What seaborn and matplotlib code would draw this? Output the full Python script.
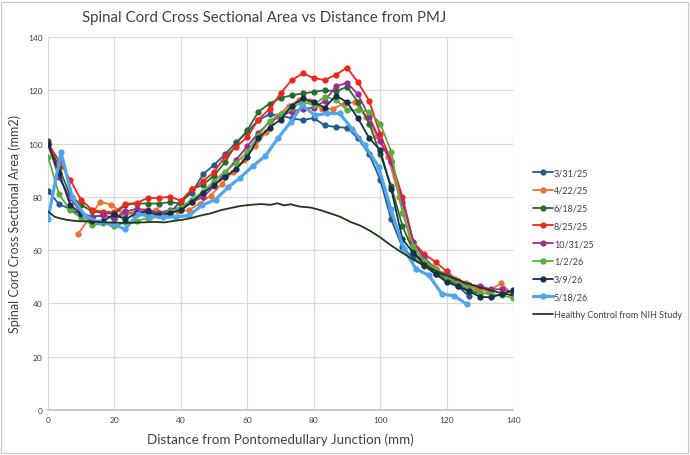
import matplotlib
matplotlib.use("Agg")
import matplotlib.pyplot as plt
import seaborn as sns
from matplotlib.lines import Line2D
from matplotlib.patches import Rectangle

# common slice positions (mm from PMJ)
grid_x = [0, 3.3, 6.7, 10, 13.3, 16.7, 20, 23.3, 26.7, 30, 33.3, 36.7, 40, 43.3, 46.7,
          50, 53.3, 56.7, 60, 63.3, 66.7, 70, 73.3, 76.7, 80, 83.3, 86.7, 90, 93.3, 96.7,
          100, 103.3, 106.7, 110, 113.3, 116.7, 120, 123.3, 126.7, 130, 133.3, 136.7, 140]

csa_3_31_25 = [82.2, 77.3, 75.4, 73.2, 72.4, 73.2, 71.7, 73.6, 74.5, 74, 73.5, 74, 78.4, 81.5,
               88.5, 92, 96, 100.5, 104.4, 108.8, 111, 110.5, 109.5, 108.8, 109.6, 106.8, 106.2,
               105.9, 102, 95.9, 86.5, 71.5, 61, 57, 54, 51, 49, 46.5, 42.8]

x_4_22_25 = [9, 12.4, 15.7, 19, 22.4, 25.7, 29, 32.4, 35.7, 39, 42.4, 45.7, 49, 52.4, 55.7, 59,
             62.4, 65.7, 69, 72.4, 75.7, 79, 82.4, 85.7, 89, 92.4, 95.7, 99, 102.4, 105.7, 109,
             112.4, 115.7, 119, 122.4, 125.7, 129, 132.4, 136.4, 140]
csa_4_22_25 = [66, 72, 78.2, 77, 74, 73.5, 74.5, 75, 74, 74.5, 75, 77.5, 80.5, 85, 89.5, 94, 99,
               104.5, 110.5, 114, 116.5, 116, 113, 113, 115, 115.5, 110, 103, 95, 80, 64, 57,
               53.5, 51, 49, 47.5, 45.5, 44.5, 47.5, 43]

csa_6_18_25 = [101, 91, 80.5, 77, 74.5, 74, 73.5, 77, 77.5, 77.5, 77.5, 78, 77.5, 82.8, 84.6, 88,
               93, 100, 105, 111.9, 115, 117.1, 118.1, 118.8, 119.4, 120, 119.6, 121.3, 115.6,
               107.5, 96, 84, 69, 59.5, 55, 52, 49.5, 47, 45, 43.5]

csa_8_25_25 = [100, 93.6, 86.3, 78.8, 75.1, 74.4, 74.2, 77.3, 77.7, 79.6, 79.6, 80, 78.6, 82.8,
               85.9, 89.3, 95.3, 98.8, 102.5, 109, 113, 118.8, 123.8, 126.3, 124.6, 123.8, 125.9,
               128.5, 123, 116, 103.5, 93.5, 80, 63, 58.5, 55.5, 52, 48.5]

csa_10_31_25 = [99.8, 87.3, 79.5, 74, 72.5, 73, 72, 74.5, 75.5, 75, 74, 75, 76, 78, 80, 84, 89,
                94, 99, 104, 108, 110.5, 112, 113, 113.5, 116, 121.5, 122.8, 118.5, 110, 101,
                93, 78, 63, 57, 53, 50.5, 48, 47, 46.5, 45.3, 45.3, 44]

csa_1_2_26 = [95.1, 81, 75, 72, 69.5, 70, 69, 70.5, 71, 72, 73, 74.5, 76, 79, 82, 85.9, 89.5,
              92.8, 97, 103, 108.5, 111, 113.5, 115.5, 114.6, 117.5, 116.5, 112.5, 112.5, 112,
              107.5, 97, 74, 61.5, 56, 53, 50, 47.5, 46, 44, 43.5, 43, 42]

csa_3_9_26 = [100, 89, 77, 73.5, 71, 71, 73.5, 71.5, 74, 74.5, 73, 74, 75, 78, 81.5, 84.5, 87.5,
              90.5, 95, 102, 106, 109, 114, 117, 115.5, 113.5, 118, 115.5, 109.5, 102, 97.5, 83,
              64, 59, 54.5, 51, 48, 46.5, 44.5, 42.5, 42.3, 43.5, 45]

x_5_18_26 = [0, 3.9, 7.3, 11.1, 15.2, 19.3, 23.2, 27.2, 30.7, 34.7, 38.6, 42.5, 46.4, 50.5, 54.2,
             57.8, 61.6, 65.4, 69.2, 73, 76.6, 80.3, 84, 87.8, 91.5, 95.3, 99.5, 103.2, 107.1,
             110.8, 114.6, 118.6, 122.3, 126.2]
csa_5_18_26 = [71.7, 96.7, 79.8, 72.9, 70.5, 69.8, 67.9, 73.6, 72.6, 72.3, 72.5, 73, 76.9, 79,
               83.6, 87.1, 91.5, 95.3, 102, 108, 114.4, 110.6, 111.3, 111.3, 105.6, 99.4, 91.3,
               75.4, 60.4, 52.9, 50.6, 43.5, 42.8, 39.6]

healthy_x = [0, 2, 4, 6, 8, 10, 13, 16, 20, 24, 28, 32, 35, 38, 40, 43, 46, 49, 52, 55, 58, 61,
             64, 67, 69, 71, 73, 76, 79, 82, 85, 88, 91, 94, 97, 100, 103, 106, 109, 112, 115,
             118, 121, 124, 127, 130, 133, 136, 140]
healthy_y = [74.5, 72.5, 71.8, 71.3, 71, 70.8, 70.8, 70.5, 70.3, 70.2, 70.4, 70.6, 70.4, 71,
             71.3, 72, 73, 73.8, 75, 75.8, 76.6, 77, 77.3, 77, 77.6, 76.8, 77.2, 76.3, 76, 75,
             73.8, 72.5, 70.6, 69.2, 67.2, 64.8, 62, 59.5, 57.2, 55, 53.2, 51.5, 50, 48.6, 47.2,
             46, 45, 44, 43]

series = [
    ("3/31/25", grid_x[:len(csa_3_31_25)], csa_3_31_25, "#245B8D"),
    ("4/22/25", x_4_22_25, csa_4_22_25, "#E97132"),
    ("6/18/25", grid_x[:len(csa_6_18_25)], csa_6_18_25, "#2A6B2A"),
    ("8/25/25", grid_x[:len(csa_8_25_25)], csa_8_25_25, "#F0251B"),
    ("10/31/25", grid_x[:len(csa_10_31_25)], csa_10_31_25, "#A02B93"),
    ("1/2/26", grid_x[:len(csa_1_2_26)], csa_1_2_26, "#5BAE3A"),
    ("3/9/26", grid_x[:len(csa_3_9_26)], csa_3_9_26, "#13304D"),
    ("5/18/26", x_5_18_26, csa_5_18_26, "#4FA6EC"),
]

sns.set_theme(style="whitegrid")
plt.rcParams["font.family"] = ["Lato", "DejaVu Sans"]

fig = plt.figure(figsize=(6.9, 4.56), dpi=100)
ax = fig.add_axes([0.0696, 0.0987, 0.674, 0.818])

handles = []
for name, xs, ys, col in series:
    lw = 2.3 if name == "5/18/26" else 1.3
    sns.lineplot(x=xs, y=ys, ax=ax, color=col, linewidth=lw, marker="o", markersize=4.5,
                 markeredgewidth=0, sort=False, errorbar=None)
    handles.append(Line2D([0], [0], color=col, lw=lw, marker="o", markersize=4.5,
                          markeredgewidth=0, label=name))

sns.lineplot(x=healthy_x, y=healthy_y, ax=ax, color="#1C3A16", linewidth=1.3,
             sort=False, errorbar=None)
handles.append(Line2D([0], [0], color="#1C3A16", lw=1.3, label="Healthy Control from NIH Study"))

ax.set_xlim(0, 140)
ax.set_ylim(0, 140)
ax.set_xticks(range(0, 141, 20))
ax.set_yticks(range(0, 141, 20))
ax.tick_params(axis="both", labelsize=6, colors="#404040", length=0, pad=4)
ax.grid(True, color="#D9D9D9", linewidth=0.9)
for s in ax.spines.values():
    s.set_visible(False)
ax.spines["bottom"].set_visible(True)
ax.spines["bottom"].set_color("#BFBFBF")

ax.set_xlabel("Distance from Pontomedullary Junction (mm)", fontsize=9.6, color="#404040", labelpad=7)
ax.set_ylabel("Spinal Cord Cross Sectional Area (mm2)", fontsize=9, color="#404040", labelpad=5)
fig.text(0.383, 0.96, "Spinal Cord Cross Sectional Area vs Distance from PMJ",
         ha="center", va="center", fontsize=10.8, color="#404040")

ax.legend(handles=handles, loc="upper left", bbox_to_anchor=(0.772, 0.629),
          bbox_transform=fig.transFigure, frameon=False, borderpad=0, borderaxespad=0,
          fontsize=6.5, handlelength=2.2, handletextpad=0.15, labelspacing=0.97,
          labelcolor="#404040")

fig.patches.append(Rectangle((0.002, 0.004), 0.995, 0.99, transform=fig.transFigure,
                             fill=False, edgecolor="#C8C8C8", linewidth=0.8))

fig.savefig("out.png", dpi=100)
